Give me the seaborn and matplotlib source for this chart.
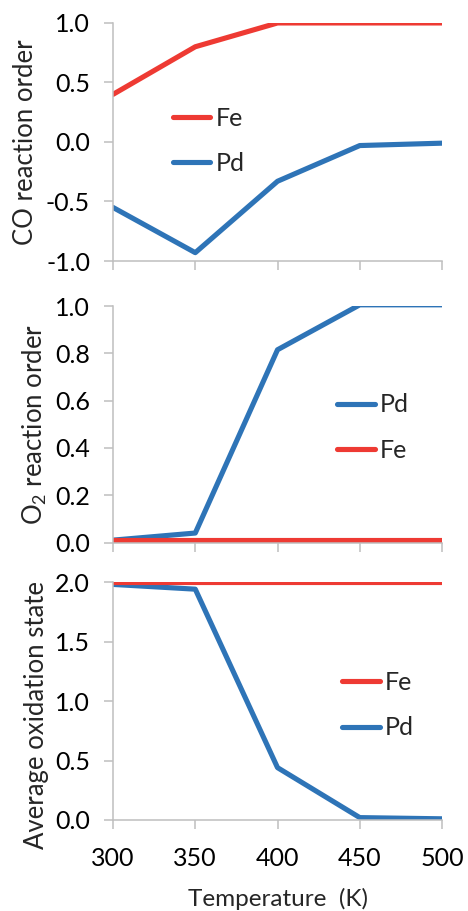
import numpy as np
import pandas as pd
import matplotlib
matplotlib.use("Agg")
import matplotlib.pyplot as plt
import seaborn as sns

# data
temps = [300, 350, 400, 450, 500]
co_fe = [0.40, 0.80, 1.00, 1.00, 1.00]
co_pd = [-0.55, -0.93, -0.33, -0.03, -0.01]
o2_pd = [0.01, 0.04, 0.815, 1.005, 1.005]
o2_fe = [0.01, 0.01, 0.01, 0.01, 0.01]
ox_fe = [2.00, 2.00, 2.00, 2.00, 2.00]
ox_pd = [1.98, 1.94, 0.44, 0.02, 0.01]

red = "#EE3A33"
blue = "#2E74B7"
grey = "#BFBFBF"

sns.set_style("white")
plt.rcParams["font.family"] = ["Lato", "DejaVu Sans"]
plt.rcParams["mathtext.fontset"] = "custom"
plt.rcParams["mathtext.rm"] = "Lato"

fig = plt.figure(figsize=(4.68, 9.11), dpi=100)
left, width = 0.2415, 0.703
ax1 = fig.add_axes([left, 0.7135, width, 0.2613])
ax2 = fig.add_axes([left, 0.4045, width, 0.2596])
ax3 = fig.add_axes([left, 0.0999, width, 0.2612])

lw = 3.7

# panel 1: CO order
sns.lineplot(x=temps, y=co_fe, color=red, lw=lw, label="Fe", ax=ax1)
sns.lineplot(x=temps, y=co_pd, color=blue, lw=lw, label="Pd", ax=ax1)
ax1.set_ylim(-1, 1)
ax1.set_yticks([-1.0, -0.5, 0.0, 0.5, 1.0])
ax1.set_ylabel("CO reaction order")
leg_pos = [(0.182, 0.505), (0.681, 0.486), (0.696, 0.483)]

# panel 2: O2 order
sns.lineplot(x=temps, y=o2_pd, color=blue, lw=lw, label="Pd", ax=ax2)
sns.lineplot(x=temps, y=o2_fe, color=red, lw=lw, label="Fe", ax=ax2)
ax2.set_ylim(0, 1)
ax2.set_yticks([0.0, 0.2, 0.4, 0.6, 0.8, 1.0])
ax2.set_ylabel(r"O$_\mathregular{2}$ reaction order")

# panel 3: oxidation state
sns.lineplot(x=temps, y=ox_pd, color=blue, lw=lw, label="Pd", ax=ax3)
sns.lineplot(x=temps, y=ox_fe, color=red, lw=lw, label="Fe", ax=ax3)
ax3.set_ylim(0, 2)
ax3.set_yticks([0.0, 0.5, 1.0, 1.5, 2.0])
ax3.set_ylabel("Average oxidation state")
ax3.set_xlabel("Temperature  (K)", fontsize=17.5, labelpad=13)

label_x = [-0.228, -0.195, -0.195]
label_y = [0.5, 0.497, 0.44]
orders = [["Fe", "Pd"], ["Pd", "Fe"], ["Fe", "Pd"]]

for i, ax in enumerate([ax1, ax2, ax3]):
    ax.set_xlim(300, 500)
    ax.set_xticks(temps)
    ax.yaxis.set_major_formatter(matplotlib.ticker.FormatStrFormatter("%.1f"))
    for s in ["top", "right"]:
        ax.spines[s].set_visible(False)
    for s in ["left", "bottom"]:
        ax.spines[s].set_color(grey)
        ax.spines[s].set_linewidth(1.1)
    ax.tick_params(axis="both", direction="out", length=6.5, width=1.1,
                   color=grey, labelsize=18, pad=10, labelcolor="black",
                   bottom=True, left=True)
    ax.tick_params(axis="x", pad=13)
    if i < 2:
        ax.tick_params(axis="x", labelbottom=False)
    ax.yaxis.label.set_fontsize(18.5)
    ax.yaxis.set_label_coords(label_x[i], label_y[i])
    h, l = ax.get_legend_handles_labels()
    hd = dict(zip(l, h))
    ax.legend([hd[k] for k in orders[i]], orders[i], loc="center left",
              bbox_to_anchor=leg_pos[i], frameon=False, fontsize=18,
              handlelength=1.5, handletextpad=0.2, labelspacing=0.9,
              borderpad=0, borderaxespad=0)

fig.savefig("out.png", dpi=100)
